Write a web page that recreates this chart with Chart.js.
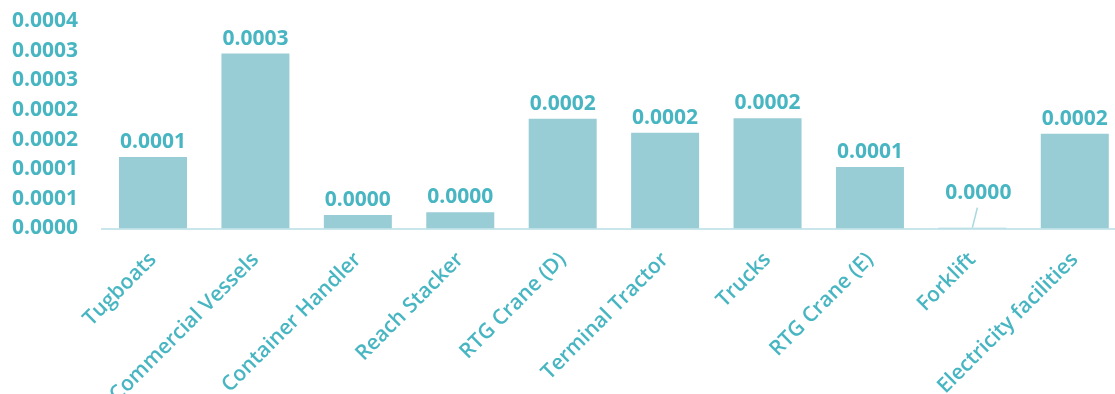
<!DOCTYPE html>
<html>
<head>
<meta charset="utf-8">
<script src="https://cdn.jsdelivr.net/npm/chart.js@4"></script>
<style>
  html, body { margin: 0; padding: 0; background: #fff; overflow: hidden; }
  #wrap { width: 1126px; height: 394px; }
</style>
</head>
<body>
<div id="wrap"><canvas id="myChart" width="1126" height="394"></canvas></div>
<script>
'use strict';

var categories = ['Tugboats', 'Commercial Vessels', 'Container Handler', 'Reach Stacker',
  'RTG Crane (D)', 'Terminal Tractor', 'Trucks', 'RTG Crane (E)', 'Forklift', 'Electricity facilities'];
var emissions = [0.0001205, 0.0002951, 0.0000227, 0.0000272, 0.0001850,
  0.0001615, 0.0001860, 0.0001037, 0.0000014, 0.0001598];
var yTicks = [0, 0.00005, 0.0001, 0.00015, 0.0002, 0.00025, 0.0003, 0.00035];

const TEAL = '#48b6c2';
const BAR = '#99cdd5';

// round half up to 4 places, like the spreadsheet does
function fmt(v) {
  return (Math.round(v * 1e4 + 1e-6) / 1e4).toFixed(4);
}

// value labels above each bar; tiny bars get a lifted label with a leader line
var valueLabels = {
  id: 'valueLabels',
  afterDatasetsDraw: function (chart, args, opts) {
    var ctx = chart.ctx;
    var meta = chart.getDatasetMeta(0);
    ctx.save();
    ctx.font = 'bold 21px "Open Sans"';
    ctx.fillStyle = TEAL;
    ctx.textAlign = 'center';
    ctx.textBaseline = 'alphabetic';
    meta.data.forEach(function (bar, i) {
      var text = fmt(emissions[i]);
      if (i === opts.leaderIndex) {
        var lx = bar.x + opts.leaderDx;
        var ly = bar.y - opts.leaderLift;
        ctx.fillText(text, lx, ly);
        ctx.strokeStyle = '#a9d9df';
        ctx.lineWidth = 1.5;
        ctx.beginPath();
        ctx.moveTo(lx - 1, ly + 9);
        ctx.lineTo(bar.x, bar.y);
        ctx.stroke();
      } else {
        ctx.fillText(text, bar.x, bar.y - 9);
      }
    });
    ctx.restore();
  }
};

var ctx = document.getElementById('myChart').getContext('2d');
var barChart = new Chart(ctx, {
  type: 'bar',
  data: {
    labels: categories,
    datasets: [{
      data: emissions,
      backgroundColor: BAR,
      borderWidth: 0,
      categoryPercentage: 0.664,
      barPercentage: 1
    }]
  },
  plugins: [valueLabels],
  options: {
    responsive: false,
    animation: false,
    layout: { padding: { top: 21, left: 12, right: 0, bottom: 0 } },
    plugins: {
      legend: { display: false },
      tooltip: { enabled: false },
      valueLabels: { leaderIndex: 8, leaderDx: 6, leaderLift: 29 }
    },
    scales: {
      x: {
        grid: { display: false, drawTicks: false },
        border: { display: true, color: '#c8e6eb', width: 2 },
        ticks: {
          color: TEAL,
          font: { family: '"Open Sans"', size: 21, weight: 600 },
          minRotation: 45,
          maxRotation: 45,
          padding: 19,
          autoSkip: false
        },
        afterFit: function (scale) {
          scale.height = 165.5;
          scale.paddingLeft = 0;
          scale.paddingRight = 0;
        }
      },
      y: {
        min: 0,
        max: 0.00035,
        grid: { display: false, drawTicks: false },
        border: { display: false },
        afterBuildTicks: function (scale) {
          scale.ticks = yTicks.map(function (v) { return { value: v }; });
        },
        ticks: {
          color: TEAL,
          font: { family: '"Open Sans"', size: 21, weight: 'bold' },
          crossAlign: 'far',
          padding: 0,
          callback: function (v) { return fmt(v); }
        },
        afterFit: function (scale) {
          scale.width = 89.8;
        }
      }
    }
  }
});
</script>
</body>
</html>
